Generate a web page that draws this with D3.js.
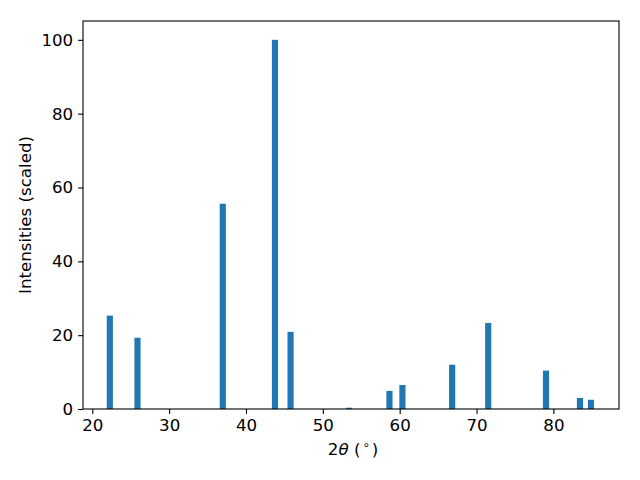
<!DOCTYPE html>
<html><head><meta charset="utf-8">
<script src="https://cdn.jsdelivr.net/npm/d3@7"></script>
<style>body{margin:0;background:#fff}text{font-family:"DejaVu Sans",sans-serif}</style>
</head><body><svg id="c" width="640" height="480"></svg>
<script>
const positions = [22.28, 25.88, 36.98, 43.77, 45.8, 53.4, 58.67, 60.36, 66.83, 71.52, 79.04, 83.46, 84.89];
const intensities = [25.3, 19.3, 55.6, 100, 20.9, 0.35, 4.9, 6.5, 12.0, 23.3, 10.4, 3.0, 2.5];
const xTicks = [20, 30, 40, 50, 60, 70, 80];
const yTicks = [0, 20, 40, 60, 80, 100];
const barWidth = 0.8;

const svg = d3.select("#c");
const L = 83, R = 619, T = 21, B = 409;
const x = d3.scaleLinear().domain([18.79, 88.54]).range([L, R]);
const y = d3.scaleLinear().domain([0, 105.1]).range([B, T]);

svg.append("g").selectAll("rect").data(positions).join("rect")
  .attr("x", (d) => x(d - barWidth / 2))
  .attr("width", (d) => x(d + barWidth / 2) - x(d - barWidth / 2))
  .attr("y", (d, i) => y(intensities[i]))
  .attr("height", (d, i) => y(0) - y(intensities[i]))
  .attr("fill", "#1f77b4");

const xa = svg.append("g").attr("transform", `translate(0,${B})`)
  .call(d3.axisBottom(x).tickValues(xTicks).tickSize(4.9).tickPadding(4.9).tickFormat(d3.format("d")));
const ya = svg.append("g").attr("transform", `translate(${L},0)`)
  .call(d3.axisLeft(y).tickValues(yTicks).tickSize(4.9).tickPadding(4.9).tickFormat(d3.format("d")));
[xa, ya].forEach(a => {
  a.select(".domain").remove();
  a.selectAll("line").attr("stroke", "#000").attr("stroke-width", 1.1);
  a.selectAll("text").attr("fill", "#000").style("font-size", "16.67px").style("font-family", "DejaVu Sans");
});

svg.append("rect").attr("x", L).attr("y", T).attr("width", R - L).attr("height", B - T)
  .attr("fill", "none").attr("stroke", "#000").attr("stroke-width", 1.1);

const xl = svg.append("text").attr("x", 353).attr("y", 455).attr("text-anchor", "middle")
  .style("font-size", "16.67px");
xl.append("tspan").text("2");
xl.append("tspan").text("θ").style("font-style", "italic");
xl.append("tspan").text(" (");
xl.append("tspan").text("∘").style("font-size", "11.7px").attr("dy", -6).attr("dx", 2);
xl.append("tspan").text(")").attr("dy", 6).attr("dx", 2);

svg.append("text").attr("transform", `translate(31,${(T + B) / 2}) rotate(-90)`)
  .attr("text-anchor", "middle").style("font-size", "16.67px").text("Intensities (scaled)");
</script></body></html>
